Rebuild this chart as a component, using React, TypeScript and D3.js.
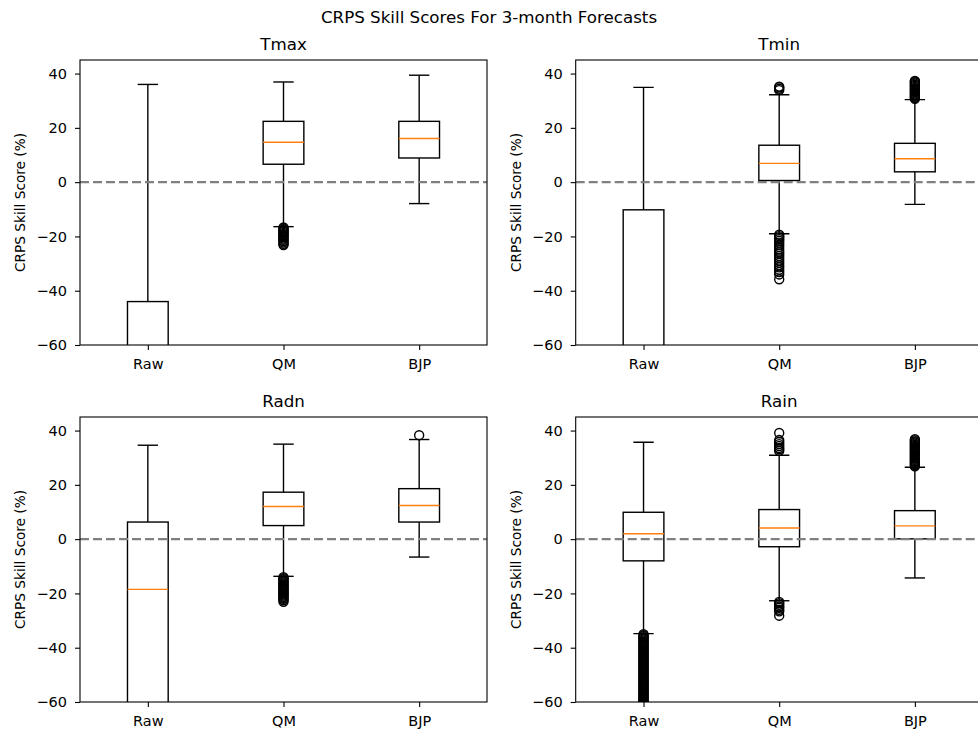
import { useEffect, useRef } from "react";
import * as d3 from "d3";

const methods = ["Raw", "QM", "BJP"];
const variables = ["Tmax", "Tmin", "Radn", "Rain"];
const yTicks = [-60, -40, -20, 0, 20, 40];

// [whislo, q1, median, q3, whishi] for Raw, QM, BJP
const tmaxStats = [
  [-200, -110, -75, -44, 36],
  [-16.4, 6.6, 14.7, 22.4, 36.9],
  [-7.9, 8.9, 16.1, 22.4, 39.4],
];
const tminStats = [
  [-180, -100, -70, -10.2, 34.9],
  [-19, 0.6, 6.9, 13.6, 32.2],
  [-8.2, 3.8, 8.6, 14.3, 30.4],
];
const radnStats = [
  [-150, -80, -18.5, 6.3, 34.6],
  [-13.7, 5.0, 12.0, 17.3, 35.0],
  [-6.6, 6.3, 12.4, 18.6, 36.7],
];
const rainStats = [
  [-34.8, -8.0, 2.0, 9.9, 35.7],
  [-22.7, -2.8, 4.1, 10.9, 30.9],
  [-14.3, 0.1, 4.9, 10.5, 26.5],
];

// outliers
const tmaxFliers = [
  [],
  [-16.7, -17.1, -17.5, -17.9, -18.3, -18.7, -19.1, -19.5, -19.9, -20.3, -20.8, -21.2, -21.7, -22.2,
    -22.7, -23.2],
  [],
];
const tminFliers = [
  [],
  [33.9, 34.4, 34.9, 35.2, -19.4, -19.9, -20.4, -21.0, -21.6, -22.3, -23.1, -23.9, -24.8, -25.6, -26.3,
    -27.2, -28.0, -28.9, -29.7, -30.6, -31.4, -32.3, -33.1, -34.0, -35.8],
  [30.7, 31.1, 31.5, 31.9, 32.3, 32.7, 33.1, 33.5, 33.9, 34.3, 34.7, 35.1, 35.5, 35.9, 36.3, 36.7, 37.1, 37.3],
];
const radnFliers = [
  [],
  [-14.0, -14.4, -14.8, -15.2, -15.6, -16.0, -16.4, -16.8, -17.2, -17.6, -18.0, -18.4, -18.8, -19.2,
    -19.6, -20.0, -20.4, -20.8, -21.2, -21.6, -22.0, -22.5, -23.1],
  [38.3],
];
const rainFliers = [
  [-35.0, -35.4, -35.8, -36.2, -36.6, -37.0, -37.4, -37.8, -38.2, -38.6, -39.0, -39.4, -39.8, -40.2,
    -40.6, -41.0, -41.4, -41.8, -42.2, -42.6, -43.0, -43.4, -43.8, -44.2, -44.6, -45.0, -45.4, -45.8,
    -46.2, -46.6, -47.0, -47.4, -47.8, -48.2, -48.6, -49.0, -49.4, -49.8, -50.2, -50.6, -51.0, -51.4,
    -51.8, -52.2, -52.6, -53.0, -53.4, -53.8, -54.2, -54.6, -55.0, -55.4, -55.8, -56.2, -56.6, -57.0,
    -57.4, -57.8, -58.2, -58.6, -59.0, -59.4, -59.8, -60.2, -60.6, -61.5, -63.0],
  [32.5, 33.1, 33.6, 34.3, 35.0, 35.8, 36.5, 39.1, -23.1, -23.6, -24.2, -24.8, -25.3, -26.0, -26.6, -28.2],
  [26.8, 27.2, 27.6, 28.0, 28.4, 28.8, 29.2, 29.6, 30.0, 30.4, 30.8, 31.2, 31.6, 32.0, 32.4, 32.8,
    33.2, 33.6, 34.0, 34.4, 34.8, 35.2, 35.6, 36.0, 36.4, 36.8],
];

const allStats = [tmaxStats, tminStats, radnStats, rainStats];
const allFliers = [tmaxFliers, tminFliers, radnFliers, rainFliers];

const App = () => {
  const svgRef = useRef<SVGSVGElement>(null);

  useEffect(() => {
    const svg = d3.select(svgRef.current);
    svg.selectAll("*").remove();

    const width = 978;
    const height = 731;
    const panelW = 407;
    const panelH = 285;
    const origins = [
      [80, 60],
      [575.7, 60],
      [80, 417],
      [575.7, 417],
    ];

    svg.append("rect").attr("width", width).attr("height", height).attr("fill", "#fff");

    svg
      .append("text")
      .attr("x", 489)
      .attr("y", 23)
      .attr("text-anchor", "middle")
      .style("font-size", "16.7px")
      .text("CRPS Skill Scores For 3-month Forecasts");

    const y = d3.scaleLinear().domain([-60, 45]).range([panelH, 0]);
    const x = d3.scalePoint<string>().domain(methods).range([0, panelW]).padding(0.5);
    const boxW = x.step() * 0.3;
    const capW = boxW / 2;

    variables.forEach((name, i) => {
      const [ox, oy] = origins[i];
      const g = svg.append("g").attr("transform", `translate(${ox},${oy})`);

      const clipId = `clip-${i}`;
      g.append("clipPath")
        .attr("id", clipId)
        .append("rect")
        .attr("width", panelW)
        .attr("height", panelH);

      const plot = g.append("g").attr("clip-path", `url(#${clipId})`);

      methods.forEach((m, j) => {
        const [lo, q1, med, q3, hi] = allStats[i][j];
        const cx = x(m)!;
        const b = plot.append("g").attr("stroke", "#000").attr("stroke-width", 1.4).attr("fill", "none");

        // whiskers
        b.append("line").attr("x1", cx).attr("x2", cx).attr("y1", y(q3)).attr("y2", y(hi));
        b.append("line").attr("x1", cx).attr("x2", cx).attr("y1", y(q1)).attr("y2", y(lo));
        // caps
        b.append("line").attr("x1", cx - capW / 2).attr("x2", cx + capW / 2).attr("y1", y(hi)).attr("y2", y(hi));
        b.append("line").attr("x1", cx - capW / 2).attr("x2", cx + capW / 2).attr("y1", y(lo)).attr("y2", y(lo));
        // box
        b.append("rect")
          .attr("x", cx - boxW / 2)
          .attr("y", y(q3))
          .attr("width", boxW)
          .attr("height", y(q1) - y(q3));
        // median
        b.append("line")
          .attr("x1", cx - boxW / 2)
          .attr("x2", cx + boxW / 2)
          .attr("y1", y(med))
          .attr("y2", y(med))
          .attr("stroke", "#ff7f0e");

        // fliers
        b.selectAll("circle.flier")
          .data(allFliers[i][j])
          .join("circle")
          .attr("class", "flier")
          .attr("cx", cx)
          .attr("cy", (d) => y(d))
          .attr("r", 4.5)
          .attr("stroke-width", 1.4);
      });

      // zero line
      plot
        .append("line")
        .attr("x1", 0)
        .attr("x2", panelW)
        .attr("y1", y(0))
        .attr("y2", y(0))
        .attr("stroke", "#808080")
        .attr("stroke-width", 2.2)
        .attr("stroke-dasharray", "9,4");

      // axes
      const yAxis = d3
        .axisLeft(y)
        .tickValues(yTicks)
        .tickSizeInner(5)
        .tickSizeOuter(0)
        .tickPadding(8)
        .tickFormat(d3.format("d"));
      const ya = g.append("g").call(yAxis);
      ya.select(".domain").remove();
      ya.selectAll("line").attr("stroke", "#000").attr("stroke-width", 1.1);
      ya.selectAll("text").style("font-size", "14.5px").style("font-family", "DejaVu Sans, sans-serif").attr("fill", "#000");

      const xAxis = d3.axisBottom(x).tickSizeInner(5).tickSizeOuter(0).tickPadding(8.7);
      const xa = g.append("g").attr("transform", `translate(0,${panelH})`).call(xAxis);
      xa.select(".domain").remove();
      xa.selectAll("line").attr("stroke", "#000").attr("stroke-width", 1.1);
      xa.selectAll("text").style("font-size", "14.5px").style("font-family", "DejaVu Sans, sans-serif").attr("fill", "#000");

      // frame
      g.append("rect")
        .attr("width", panelW)
        .attr("height", panelH)
        .attr("fill", "none")
        .attr("stroke", "#000")
        .attr("stroke-width", 1.1);

      // titles
      g.append("text")
        .attr("x", panelW / 2)
        .attr("y", -10.5)
        .attr("text-anchor", "middle")
        .style("font-size", "16.7px")
        .text(name);

      g.append("text")
        .attr("transform", `translate(-55,${panelH / 2}) rotate(-90)`)
        .attr("text-anchor", "middle")
        .style("font-size", "13.7px")
        .text("CRPS Skill Score (%)");
    });
  }, []);

  return (
    <svg
      ref={svgRef}
      width={978}
      height={731}
      style={{ position: "absolute", left: 0, top: 0, fontFamily: "DejaVu Sans, sans-serif" }}
    />
  );
};

export default App;
